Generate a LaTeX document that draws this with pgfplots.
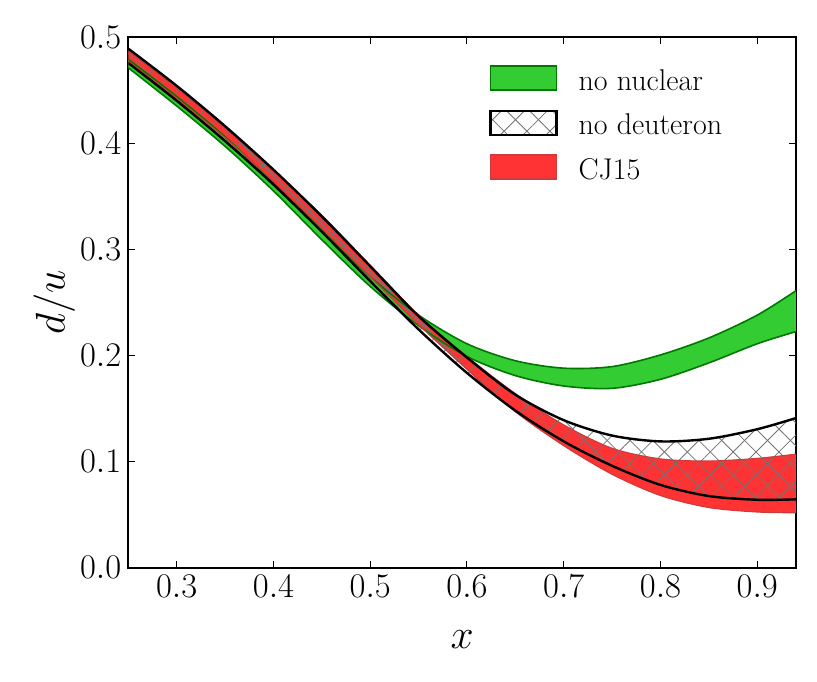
\documentclass[border=0pt]{standalone}
\usepackage{pgfplots}
\pgfplotsset{compat=1.18}
\usepackage{pgfplotstable}
\usepgfplotslibrary{fillbetween}
\usetikzlibrary{patterns.meta}
\definecolor{gfill}{RGB}{51,204,51}
\definecolor{gedge}{RGB}{0,120,0}
\definecolor{rfill}{RGB}{255,51,51}
\definecolor{redge}{RGB}{205,60,60}
\tikzset{
  hatchA/.style={pattern={Lines[angle=45,distance=8.1pt,line width=0.4pt]},pattern color=black!55},
  hatchB/.style={pattern={Lines[angle=-45,distance=8.1pt,line width=0.4pt]},pattern color=black!55},
}
\pgfplotstableread{
x     gt     gb     rt     rb     bu     bl
0.25  0.479  0.471  0.487  0.477  0.489  0.4755
0.30  0.444  0.435  0.452  0.442  0.454  0.440
0.35  0.406  0.397  0.414  0.405  0.416  0.402
0.40  0.363  0.355  0.374  0.364  0.375  0.361
0.45  0.318  0.309  0.332  0.3195 0.331  0.3165
0.50  0.274  0.265  0.285  0.274  0.284  0.270
0.55  0.238  0.228  0.238  0.229  0.237  0.2245
0.60  0.211  0.199  0.199  0.187  0.198  0.1835
0.65  0.195  0.181  0.164  0.147  0.163  0.148
0.70  0.188  0.1712 0.1345 0.115  0.139  0.119
0.75  0.1895 0.169  0.1125 0.088  0.1245 0.096
0.80  0.2005 0.1775 0.1025 0.068  0.119  0.078
0.85  0.2165 0.193  0.1005 0.0567 0.1215 0.0675
0.90  0.238  0.211  0.103  0.0525 0.1305 0.064
0.94  0.261  0.2225 0.107  0.0518 0.141  0.0644
}\data
\begin{document}
\begin{tikzpicture}
\begin{axis}[
  at={(0,0)}, anchor=south west,
  scale only axis, width=333.85pt, height=265.35pt,
  xmin=0.25, xmax=0.94, ymin=0, ymax=0.5,
  xtick={0.3,0.4,0.5,0.6,0.7,0.8,0.9},
  ytick={0,0.1,0.2,0.3,0.4,0.5},
  yticklabel style={/pgf/number format/.cd, fixed, fixed zerofill, precision=1},
  xticklabel style={/pgf/number format/.cd, fixed, precision=1},
  ticklabel style={font=\fontsize{18.5}{22}\selectfont},
  tick align=inside, major tick length=3.5pt,
  tick style={black, line width=0.5pt},
  axis line style={line width=1pt},
  xlabel={$x$}, ylabel={$d/u$},
  label style={font=\fontsize{21}{25}\selectfont},
  xlabel style={at={([yshift=-36pt]axis description cs:0.5,0)}, anchor=center},
  ylabel style={at={([xshift=-37pt]axis description cs:0,0.5)}, anchor=center},
  legend style={at={(axis description cs:0.531,0.955)}, anchor=north west,
    draw=none, fill=none, font=\fontsize{15}{18}\selectfont,
    nodes={text height=0.7em, text depth=0.2em}, row sep=5.75pt,
    /tikz/every odd column/.append style={column sep=8.5pt}},
  legend cell align=left,
]
% no nuclear
\addplot[draw=none, name path=GT, smooth, forget plot] table[x=x,y=gt]{\data};
\addplot[draw=none, name path=GB, smooth, forget plot] table[x=x,y=gb]{\data};
\addplot[fill=gfill, draw=none, forget plot] fill between[of=GT and GB];
\addplot[gedge, line width=0.8pt, smooth, forget plot] table[x=x,y=gt]{\data};
\addplot[gedge, line width=0.8pt, smooth, forget plot] table[x=x,y=gb]{\data};
% CJ15
\addplot[draw=none, name path=RT, smooth, forget plot] table[x=x,y=rt]{\data};
\addplot[draw=none, name path=RB, smooth, forget plot] table[x=x,y=rb]{\data};
\addplot[fill=rfill, draw=none, forget plot] fill between[of=RT and RB];
\addplot[redge, line width=0.6pt, smooth, forget plot] table[x=x,y=rt]{\data};
\addplot[redge, line width=0.6pt, smooth, forget plot] table[x=x,y=rb]{\data};
% no deuteron
\addplot[draw=none, name path=BU, smooth, forget plot] table[x=x,y=bu]{\data};
\addplot[draw=none, name path=BL, smooth, forget plot] table[x=x,y=bl]{\data};
\addplot[hatchA, draw=none, forget plot] fill between[of=BU and BL];
\addplot[hatchB, draw=none, forget plot] fill between[of=BU and BL];
\addplot[black, line width=1.2pt, smooth, forget plot] table[x=x,y=bu]{\data};
\addplot[black, line width=1.2pt, smooth, forget plot] table[x=x,y=bl]{\data};
% legend
\addlegendimage{legend image code/.code={\draw[fill=gfill, draw=gedge, line width=0.8pt] (0pt,-2.5pt) rectangle (33pt,9.5pt);}}
\addlegendentry{no nuclear}
\addlegendimage{legend image code/.code={\fill[hatchA] (0pt,-2.5pt) rectangle (33pt,9.5pt); \fill[hatchB] (0pt,-2.5pt) rectangle (33pt,9.5pt); \draw[black, line width=1.2pt] (0pt,-2.5pt) rectangle (33pt,9.5pt);}}
\addlegendentry{no deuteron}
\addlegendimage{legend image code/.code={\draw[fill=rfill, draw=redge, line width=0.8pt] (0pt,-2.5pt) rectangle (33pt,9.5pt);}}
\addlegendentry{CJ15}
\end{axis}
\path (-64.15pt,-56.65pt) rectangle (344.35pt,283.85pt);
\end{tikzpicture}
\end{document}
